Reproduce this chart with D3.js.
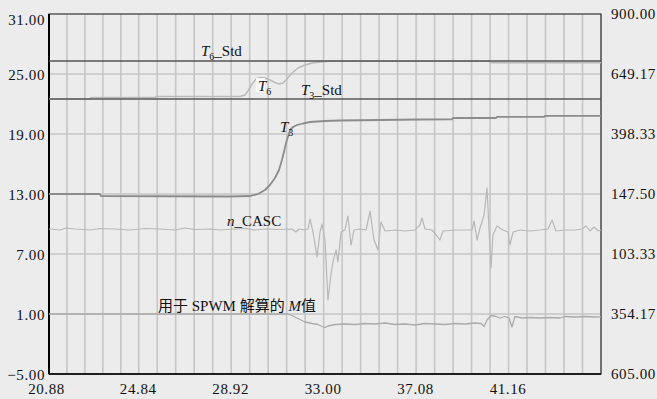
<!DOCTYPE html>
<html><head><meta charset="utf-8">
<script src="https://cdn.jsdelivr.net/npm/d3@7"></script>
<style>
html,body{margin:0;padding:0;background:#ececec;}
svg{display:block;}
svg text{font-family:"Liberation Serif","Tinos","DejaVu Serif","Times New Roman","Noto Sans CJK SC",serif;fill:#111;}
</style></head>
<body><svg id="chart" width="657" height="399"></svg>
<script>
// ---- data ----
const xTicks = [20.88, 24.84, 28.92, 33.00, 37.08, 41.16, 45.24];
const xTickLabels = ["20.88", "24.84", "28.92", "33.00", "37.08", "41.16"];
const yTicks = [-5, 1, 7, 13, 19, 25, 31];
const rightTickLabels = ["605.00", "354.17", "103.33", "147.50", "398.33", "649.17", "900.00"];

const T6Std = 26.3;
const T3Std = 22.5;

const t3Time = [20.88, 23.13, 23.17, 28.87, 29.75, 30.10, 30.41, 30.63, 30.85, 31.03, 31.16, 31.29, 31.38, 31.52, 31.65, 31.82, 32.09, 32.40, 33.06, 33.72, 37.25, 38.66, 38.71, 40.61, 40.65, 42.72, 42.77, 45.24];
const t3Value = [13.0, 13.0, 12.8, 12.75, 12.8, 13.0, 13.4, 13.9, 14.6, 15.4, 16.4, 17.6, 18.4, 19.4, 19.7, 19.9, 20.05, 20.2, 20.3, 20.35, 20.45, 20.47, 20.6, 20.6, 20.72, 20.72, 20.82, 20.82];

const t6Time = [20.88, 22.69, 22.73, 25.56, 25.60, 29.31, 29.53, 29.66, 29.84, 30.02, 30.19, 30.41, 30.63, 30.85, 31.03, 31.21, 31.38, 31.60, 31.87, 32.18, 32.49, 32.84, 33.28, 40.30, 40.39, 45.24];
const t6Value = [22.5, 22.5, 22.65, 22.65, 22.75, 22.75, 22.9, 23.3, 24.0, 24.5, 24.65, 24.6, 24.4, 24.15, 24.0, 24.1, 24.5, 25.1, 25.6, 25.9, 26.1, 26.2, 26.27, 26.27, 26.12, 26.12];

const nTime = [20.88, 21.37, 21.63, 22.03, 22.69, 23.13, 23.79, 24.45, 25.12, 25.78,
  26.44, 26.88, 27.32, 27.99, 28.43, 29.09, 29.53, 29.97, 30.41, 31.07,
  31.60, 31.78, 31.91, 32.18, 32.31, 32.40, 32.53, 32.71, 32.84, 32.93,
  33.06, 33.19, 33.32, 33.41, 33.55, 33.63, 33.77, 33.94, 34.07, 34.21,
  34.34, 34.60, 34.87, 35.05, 35.22, 35.40, 35.53, 35.71, 36.15, 36.59,
  37.03, 37.25, 37.34, 37.47, 37.78, 38.00, 38.13, 38.27, 38.80, 39.24,
  39.55, 39.64, 39.77, 39.90, 40.08, 40.21, 40.30, 40.39, 40.47, 40.65,
  40.91, 41.14, 41.22, 41.36, 41.67, 42.11, 42.55, 42.90, 43.08, 43.25,
  43.65, 44.09, 44.40, 44.58, 44.75, 44.93, 45.11, 45.24];
const nValue = [9.5, 9.4, 9.6, 9.5, 9.4, 9.55, 9.5, 9.4, 9.55, 9.5,
  9.4, 9.6, 9.45, 9.5, 9.4, 9.5, 9.55, 9.4, 9.5, 9.45,
  9.5, 9.2, 9.5, 9.4, 9.5, 10.5, 9.2, 6.7, 9.2, 10.0,
  8.4, 2.4, 4.9, 6.2, 7.4, 6.2, 9.2, 9.4, 10.8, 7.9,
  9.4, 9.5, 9.4, 11.3, 8.4, 7.4, 10.2, 9.3, 9.4, 9.3,
  9.4, 9.9, 10.6, 9.5, 9.4, 8.8, 8.4, 9.3, 9.4, 9.4,
  9.4, 10.3, 8.4, 9.6, 10.9, 13.6, 9.4, 5.6, 8.9, 9.8,
  9.4, 9.2, 7.9, 9.2, 9.4, 9.3, 9.4, 9.5, 10.4, 9.3,
  9.4, 9.4, 9.5, 9.8, 9.3, 9.7, 9.3, 9.4];

const mTime = [20.88, 27.54, 31.43, 31.60, 31.87, 32.18, 32.49, 32.75, 32.93, 33.06,
  33.19, 33.50, 33.94, 34.38, 34.83, 35.27, 35.71, 36.15, 36.59, 37.03,
  37.47, 37.91, 38.36, 38.80, 39.24, 39.68, 39.94, 40.08, 40.21, 40.39,
  40.61, 40.78, 41.00, 41.18, 41.31, 41.44, 41.75, 42.11, 42.55, 42.99,
  43.43, 43.65, 44.09, 44.53, 44.97, 45.24];
const mValue = [1.0, 1.0, 1.0, 0.85, 0.55, 0.2, 0.05, -0.05, -0.25, -0.35,
  -0.2, -0.05, 0.0, -0.05, 0.05, 0.0, 0.1, -0.05, 0.0, -0.1,
  0.05, 0.0, -0.05, 0.05, 0.0, 0.1, 0.05, -0.25, 0.4, 0.85,
  0.75, 0.6, 0.75, 0.6, -0.3, 0.75, 0.6, 0.65, 0.6, 0.65,
  0.6, 0.75, 0.7, 0.75, 0.7, 0.72];

// ---- chart ----
const FONT = '"Liberation Serif","Tinos","DejaVu Serif","Times New Roman","Noto Sans CJK SC",serif';
const svg = d3.select("#chart");
const L = 49, R = 601, T = 14, B = 374;
const x = d3.scaleLinear().domain([20.88, 45.24]).range([L, R]);
const y = d3.scaleLinear().domain([-5, 31]).range([B, T]);

// vertical grid: 5 subdivisions between ticks
const vGrid = [];
for (let i = 0; i < xTicks.length - 1; i++) {
  for (let k = 1; k <= 5; k++) vGrid.push(xTicks[i] + (xTicks[i + 1] - xTicks[i]) * k / 5);
}
svg.append("g").selectAll("line").data(vGrid).join("line")
  .attr("x1", d => x(d)).attr("x2", d => x(d))
  .attr("y1", T).attr("y2", B)
  .attr("stroke", "#c6c6c6").attr("stroke-width", 1.6);
svg.append("g").selectAll("line").data(yTicks.slice(1, -1)).join("line")
  .attr("x1", L).attr("x2", R)
  .attr("y1", d => y(d)).attr("y2", d => y(d))
  .attr("stroke", "#c6c6c6").attr("stroke-width", 1.6);

// frame
svg.append("rect").attr("x", L).attr("y", T).attr("width", R - L).attr("height", B - T)
  .attr("fill", "none").attr("stroke", "#333").attr("stroke-width", 1.2);
svg.append("line").attr("x1", L).attr("x2", L).attr("y1", T).attr("y2", B)
  .attr("stroke", "#000").attr("stroke-width", 2);
svg.append("line").attr("x1", L).attr("x2", R).attr("y1", B).attr("y2", B)
  .attr("stroke", "#000").attr("stroke-width", 1.6);

const line = d3.line().x(d => x(d[0])).y(d => y(d[1]));
const zip = (a, b) => a.map((v, i) => [v, b[i]]);

function draw(data, color, w) {
  svg.append("path").datum(data).attr("d", line)
    .attr("fill", "none").attr("stroke", color).attr("stroke-width", w)
    .attr("stroke-linejoin", "round");
}
draw(zip(mTime, mValue), "#ababab", 1.3);
draw(zip(nTime, nValue), "#b8b8b8", 1.2);
draw(zip(t6Time, t6Value), "#bababa", 1.5);
draw([[20.88, T3Std], [45.24, T3Std]], "#5a5a5a", 1.4);
draw([[20.88, T6Std], [45.24, T6Std]], "#555", 1.4);
draw(zip(t3Time, t3Value), "#8c8c8c", 1.8);

// axes
const fmt = d3.format(".2f");
function styleAxis(g) {
  g.attr("font-family", FONT);
  g.select(".domain").remove();
  g.selectAll("text").style("font-family", FONT)
    .style("font-size", "15px").attr("letter-spacing", "0.6").attr("fill", "#111");
}
const left = svg.append("g").attr("transform", `translate(${L},0)`)
  .call(d3.axisLeft(y).tickValues(yTicks).tickSize(0).tickPadding(4).tickFormat(fmt));
styleAxis(left);
left.selectAll("text").attr("dy", d => d === 31 ? "0.7em" : "0.35em");

const right = svg.append("g").attr("transform", `translate(${R},0)`)
  .call(d3.axisRight(y).tickValues(yTicks).tickSize(0).tickPadding(10)
    .tickFormat((d, i) => rightTickLabels[i]));
styleAxis(right);

const bottom = svg.append("g").attr("transform", `translate(0,${B})`)
  .call(d3.axisBottom(x).tickValues(xTicks.slice(0, -1)).tickSize(0).tickPadding(9)
    .tickFormat((d, i) => xTickLabels[i]));
styleAxis(bottom);
bottom.selectAll("text").attr("dx", (d, i) => i === 0 ? "-3" : "-1");

// series labels
function subLabel(px, py, main, sub, rest) {
  const t = svg.append("text").attr("x", px).attr("y", py)
    .style("font-family", FONT).style("font-size", "15px");
  t.append("tspan").text(main).style("font-style", "italic");
  t.append("tspan").text(sub).attr("dy", 4).style("font-size", "10px");
  if (rest) t.append("tspan").text(rest).attr("dy", -4);
  return t;
}
subLabel(201, 56, "T", "6", "_Std");
subLabel(301, 95, "T", "3", "_Std");
svg.append("rect").attr("x", 256).attr("y", 78).attr("width", 9).attr("height", 14).attr("fill", "#fafafa");
subLabel(258, 91, "T", "6", null);
subLabel(280, 132, "T", "3", null);

const nl = svg.append("text").attr("x", 227).attr("y", 226)
  .style("font-family", FONT).style("font-size", "15px");
nl.append("tspan").text("n").style("font-style", "italic");
nl.append("tspan").text("_CASC");

const ml = svg.append("text").attr("x", 158).attr("y", 311)
  .style("font-family", FONT).style("font-size", "15px");
ml.append("tspan").text("用于 SPWM 解算的 ");
ml.append("tspan").text("M").style("font-style", "italic");
ml.append("tspan").text("值");
</script>
</body></html>
